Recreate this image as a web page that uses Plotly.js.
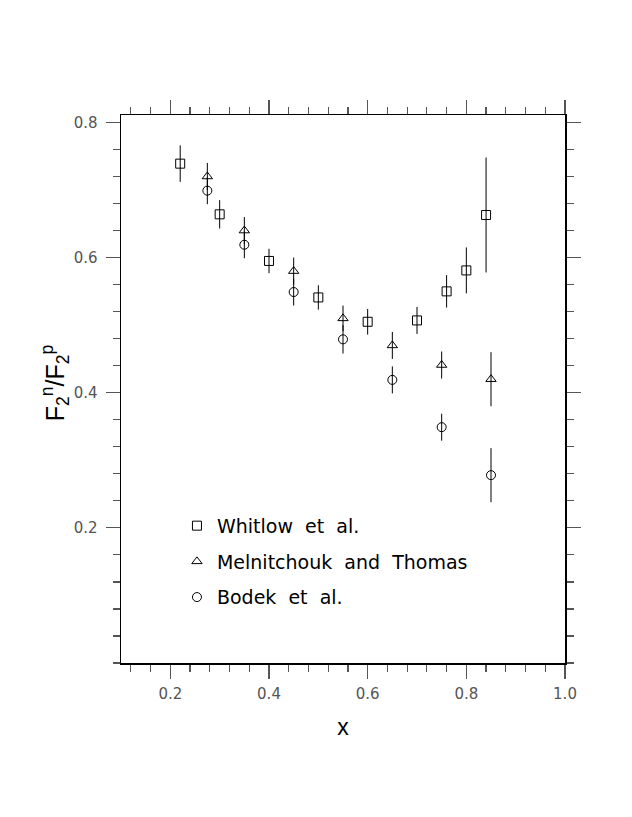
<!DOCTYPE html>
<html>
<head>
<meta charset="utf-8">
<script src="https://cdn.plot.ly/plotly-3.0.1.min.js"></script>
<style>html,body{margin:0;padding:0;background:#fff;}</style>
</head>
<body>
<div id="chart" style="width:632px;height:817px;"></div>
<script>
// Whitlow et al.
var whitlowX = [0.22, 0.30, 0.40, 0.50, 0.60, 0.70, 0.76, 0.80, 0.84];
var whitlowY = [0.739, 0.664, 0.595, 0.541, 0.505, 0.507, 0.550, 0.581, 0.663];
var whitlowErr = [0.027, 0.021, 0.018, 0.018, 0.019, 0.020, 0.024, 0.034, 0.085];
// Melnitchouk and Thomas
var melX = [0.275, 0.35, 0.45, 0.55, 0.65, 0.75, 0.85];
var melY = [0.720, 0.640, 0.580, 0.510, 0.470, 0.441, 0.420];
var melErr = [0.020, 0.020, 0.020, 0.019, 0.020, 0.020, 0.040];
// Bodek et al.
var bodekX = [0.275, 0.35, 0.45, 0.55, 0.65, 0.75, 0.85];
var bodekY = [0.699, 0.619, 0.549, 0.479, 0.419, 0.349, 0.278];
var bodekErr = [0.020, 0.020, 0.020, 0.021, 0.020, 0.020, 0.040];

var seriesNames = ['Whitlow\u00a0\u00a0et\u00a0\u00a0al.', 'Melnitchouk\u00a0\u00a0and\u00a0\u00a0Thomas', 'Bodek\u00a0\u00a0et\u00a0\u00a0al.'];
var xTickVals = [0.2, 0.4, 0.6, 0.8, 1.0];
var yTickVals = [0.2, 0.4, 0.6, 0.8];

function mk(x, y, e, name, sym, grp) {
  return {
    type: 'scatter', mode: 'markers', x: x, y: y, name: name, legendgroup: grp,
    marker: {symbol: sym, size: 9, color: 'black', line: {width: 1, color: 'black'}},
    error_y: {type: 'data', array: e, visible: true, width: 0, thickness: 1, color: 'black'}
  };
}

var data = [
  mk(whitlowX, whitlowY, whitlowErr, seriesNames[0], 'square-open', 'a'),
  mk(melX, melY, melErr, seriesNames[1], 'triangle-up-open', 'b'),
  mk(bodekX, bodekY, bodekErr, seriesNames[2], 'circle-open', 'c')
];

var tickFont = {family: 'DejaVu Sans', size: 15, color: '#555'};
var axisCommon = {
  showgrid: false, zeroline: false, showline: true, linecolor: 'black', linewidth: 1.5,
  mirror: 'ticks', ticks: 'outside', ticklen: 14, tickwidth: 1.2, tickcolor: '#555',
  tickmode: 'array', tickformat: '.1f', tickfont: tickFont,
  minor: {ticks: 'outside', ticklen: 7, tickwidth: 1.2, tickcolor: '#555', tickmode: 'linear', tick0: 0, dtick: 0.04, showgrid: false}
};

var layout = {
  width: 632, height: 817,
  margin: {l: 121, r: 67, t: 115, b: 154},
  paper_bgcolor: 'white', plot_bgcolor: 'white',
  showlegend: true,
  legend: {x: 0.126, xanchor: 'left', y: 0.285, yanchor: 'top', bgcolor: 'rgba(0,0,0,0)',
           font: {family: 'DejaVu Sans', size: 19, color: 'black'}, tracegroupgap: 8, itemsizing: 'trace'},
  xaxis: Object.assign({}, axisCommon, {range: [0.1, 1.0], tickvals: xTickVals, ticklabelstandoff: 2,
    title: {text: 'x', font: {family: 'Liberation Sans', size: 23, color: 'black'}, standoff: 17}}),
  yaxis: Object.assign({}, axisCommon, {range: [0, 0.811], tickvals: yTickVals, ticklabelstandoff: 5}),
  annotations: [{
    xref: 'paper', yref: 'paper', x: -0.148, y: 0.511, xanchor: 'center', yanchor: 'middle',
    textangle: -90, showarrow: false,
    text: 'F<sub>2</sub><sup>n</sup>/F<sub>2</sub><sup>p</sup>',
    font: {family: 'Liberation Sans', size: 25, color: 'black'}
  }]
};

Plotly.newPlot('chart', data, layout, {displayModeBar: false, staticPlot: true});
</script>
</body>
</html>
